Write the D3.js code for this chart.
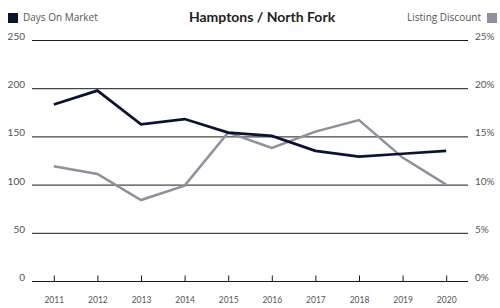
<!DOCTYPE html>
<html>
<head>
<meta charset="utf-8">
<script src="https://cdn.jsdelivr.net/npm/d3@7"></script>
<style>
  body { margin: 0; background: #fff; }
  text { font-family: Lato, "Open Sans", sans-serif; }
</style>
</head>
<body>
<svg class="plot" width="500" height="308"></svg>
<script>
// data
var years = ["2011","2012","2013","2014","2015","2016","2017","2018","2019","2020"];
var daysOnMarket = [183, 197.5, 162.5, 168, 154, 150.5, 135, 129, 132, 135];
var listingDiscount = [11.9, 11.1, 8.4, 9.9, 15.4, 13.8, 15.5, 16.7, 12.8, 10.0];
var leftTicks = [0, 50, 100, 150, 200, 250];
var rightTicks = [0, 5, 10, 15, 20, 25];

var svg = d3.select(".plot"),
    margin = {top: 40, right: 32, bottom: 27, left: 32},
    width = +svg.attr("width") - margin.left - margin.right,
    height = +svg.attr("height") - margin.top - margin.bottom;

var navy = "#0b1330", grey = "#908f9c";

var x = d3.scalePoint().domain(years).range([0, width]).padding(0.5),
    yL = d3.scaleLinear().domain([0, 250]).range([height, 0]),
    yR = d3.scaleLinear().domain([0, 25]).range([height, 0]);

var g = svg.append("g")
    .attr("transform", "translate(" + margin.left + "," + margin.top + ")");

//gridlines
g.selectAll(".grid")
    .data(leftTicks)
    .enter().append("line")
    .attr("x1", 0).attr("x2", width)
    .attr("y1", function(d) { return yL(d) + 0.5; })
    .attr("y2", function(d) { return yL(d) + 0.5; })
    .attr("stroke", "#1a1a1a")
    .attr("stroke-width", 1);

//left labels
g.selectAll(".ylab")
    .data(leftTicks)
    .enter().append("text")
    .attr("x", -7)
    .attr("y", function(d) { return yL(d); })
    .attr("text-anchor", "end")
    .style("font-size", "10px")
    .style("fill", "#555")
    .text(function(d) { return d; });

//right labels
g.selectAll(".yrlab")
    .data(rightTicks)
    .enter().append("text")
    .attr("x", width + 7)
    .attr("y", function(d) { return yR(d); })
    .style("font-size", "10px")
    .style("fill", "#555")
    .text(function(d) { return d + "%"; });

//x axis
var xAxis = g.append("g")
    .attr("transform", "translate(0," + (height + 0.5) + ")")
    .call(d3.axisBottom(x).tickSizeInner(-6).tickSizeOuter(0).tickPadding(15));
xAxis.select(".domain").remove();
xAxis.selectAll(".tick line").attr("stroke", "#1a1a1a");
xAxis.selectAll(".tick text")
    .style("font-family", "Lato, sans-serif")
    .style("font-size", "8.5px")
    .style("fill", "#555");

//lines
var lineR = d3.line()
    .x(function(d, i) { return x(years[i]); })
    .y(function(d) { return yR(d); });
var lineL = d3.line()
    .x(function(d, i) { return x(years[i]); })
    .y(function(d) { return yL(d); });

g.append("path")
    .datum(listingDiscount)
    .attr("fill", "none")
    .attr("stroke", grey)
    .attr("stroke-width", 2.5)
    .attr("d", lineR);

g.append("path")
    .datum(daysOnMarket)
    .attr("fill", "none")
    .attr("stroke", navy)
    .attr("stroke-width", 2.7)
    .attr("d", lineL);

//title and legend
svg.append("text")
    .attr("x", 262)
    .attr("y", 22)
    .attr("text-anchor", "middle")
    .style("font-size", "14px")
    .style("font-weight", "bold")
    .style("fill", "#222")
    .text("Hamptons / North Fork");

svg.append("rect")
    .attr("x", 8).attr("y", 13).attr("width", 10).attr("height", 10)
    .attr("fill", navy);
svg.append("text")
    .attr("x", 23).attr("y", 21)
    .style("font-family", "'Open Sans', sans-serif")
    .style("font-size", "10px")
    .style("fill", "#555")
    .text("Days On Market");

svg.append("rect")
    .attr("x", 487).attr("y", 13).attr("width", 10).attr("height", 10)
    .attr("fill", grey);
svg.append("text")
    .attr("x", 481).attr("y", 21)
    .attr("text-anchor", "end")
    .style("font-family", "'Open Sans', sans-serif")
    .style("font-size", "10px")
    .style("fill", "#555")
    .text("Listing Discount");
</script>
</body>
</html>
